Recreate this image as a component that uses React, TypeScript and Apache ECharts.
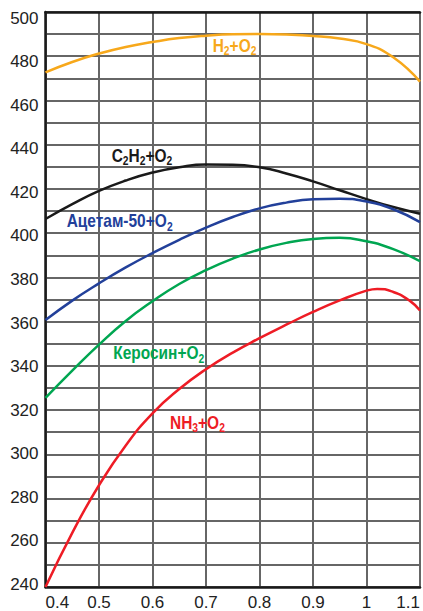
import React, { useEffect, useRef } from "react";
import * as echarts from "echarts";

// Values
const xH2 = [0.4, 0.45, 0.5, 0.55, 0.6, 0.65, 0.7, 0.75, 0.8, 0.85, 0.9, 0.95, 1.0, 1.05, 1.1];
const yH2 = [472.7, 477.4, 481.2, 484.2, 486.4, 488.2, 489.3, 489.9, 490.0, 489.8, 489.2, 488.0, 485.5, 479.5, 468.5];

const xC2H2 = [0.4, 0.45, 0.5, 0.55, 0.6, 0.65, 0.7, 0.75, 0.8, 0.85, 0.9, 0.95, 1.0, 1.05, 1.1];
const yC2H2 = [406.4, 413.1, 419.1, 423.8, 427.4, 429.8, 431.0, 430.9, 429.8, 427.0, 423.4, 419.4, 415.4, 411.8, 408.8];

const xAcetam = [0.4, 0.45, 0.5, 0.55, 0.6, 0.65, 0.7, 0.75, 0.8, 0.85, 0.9, 0.95, 1.0, 1.05, 1.1];
const yAcetam = [360.7, 369.5, 377.3, 384.5, 391.0, 397.0, 402.5, 407.3, 411.2, 413.8, 415.3, 415.6, 414.3, 410.8, 405.0];

const xKerosin = [0.4, 0.45, 0.5, 0.55, 0.6, 0.65, 0.7, 0.75, 0.8, 0.85, 0.9, 0.95, 1.0, 1.05, 1.1];
const yKerosin = [325.5, 337.8, 349.6, 360.3, 369.2, 377.0, 383.3, 388.5, 392.6, 395.6, 397.4, 397.9, 396.3, 392.8, 387.3];

const xNH3 = [0.4, 0.45, 0.5, 0.55, 0.6, 0.65, 0.7, 0.75, 0.8, 0.85, 0.9, 0.95, 1.0, 1.02, 1.05, 1.08, 1.1];
const yNH3 = [240.0, 264.5, 286.0, 304.0, 318.5, 329.5, 338.5, 346.0, 352.5, 358.6, 364.4, 369.6, 374.0, 374.8, 373.4, 369.6, 365.0];

const seriesNames = ["H2+O2", "C2H2+O2", "Ацетам-50+O2", "Керосин+O2", "NH3+O2"];
const seriesColors = ["#F7A81B", "#1a1a1a", "#22409A", "#00A651", "#EE1C25"];

const xTicks = { min: 0.4, max: 1.1, step: 0.1 };
const yTicks = { min: 240, max: 500, step: 10 };
const yLabelValues = [240, 260, 280, 300, 320, 340, 360, 380, 400, 420, 440, 460, 480, 500];
// the printed tick labels sit on a slightly compressed scale
const yLabelRange = { min: 238.72, max: 502.88 };

const zip = (xs: number[], ys: number[]) => xs.map((x, i) => [x, ys[i]]);

const labelFont = "'Liberation Sans', Arial, sans-serif";

function richLabel(parts: [string, boolean][]) {
  return parts.map(([t, sub]) => (sub ? `{s|${t}}` : `{n|${t}}`)).join("");
}

function makeLabel(x: number, y: number, color: string, parts: [string, boolean][]) {
  return {
    type: "text",
    x,
    y,
    scaleX: 0.86,
    z: 10,
    style: {
      text: richLabel(parts),
      fill: color,
      verticalAlign: "middle",
      align: "left",
      rich: {
        n: { fontSize: 18, fontWeight: "bold", fontFamily: labelFont, fill: color, lineHeight: 22, verticalAlign: "middle" },
        s: { fontSize: 12, fontWeight: "bold", fontFamily: labelFont, fill: color, lineHeight: 22, verticalAlign: "bottom" },
      },
    },
  };
}

export default function App() {
  const ref = useRef<HTMLDivElement>(null);
  useEffect(() => {
    if (!ref.current) return;
    const chart = echarts.init(ref.current, null, { renderer: "svg" });
    const dataSets = [zip(xH2, yH2), zip(xC2H2, yC2H2), zip(xAcetam, yAcetam), zip(xKerosin, yKerosin), zip(xNH3, yNH3)];
    const axisLabelStyle = { fontSize: 17, color: "#222", fontFamily: "'Liberation Sans', Arial, sans-serif" };
    const blackLine = { show: true, onZero: false, lineStyle: { color: "#1a1a1a", width: 2.5 } };
    chart.setOption({
      animation: false,
      backgroundColor: "#fff",
      grid: { left: 45.5, top: 12, width: 378, height: 577.5, containLabel: false },
      xAxis: [
        {
          type: "value",
          min: xTicks.min,
          max: xTicks.max,
          interval: xTicks.step,
          position: "bottom",
          axisLine: blackLine,
          axisTick: { show: false },
          splitLine: { show: true, lineStyle: { color: "#666", width: 2 } },
          axisLabel: {
            ...axisLabelStyle,
            margin: 7,
            alignMinLabel: "left",
            alignMaxLabel: "right",
            formatter: (v: number) => String(Math.round(v * 10) / 10),
          },
        },
        {
          type: "value",
          min: xTicks.min,
          max: xTicks.max,
          interval: xTicks.step,
          position: "top",
          axisLine: blackLine,
          axisTick: { show: false },
          splitLine: { show: false },
          axisLabel: { show: false },
        },
      ],
      yAxis: [
        {
          type: "value",
          min: yTicks.min,
          max: yTicks.max,
          interval: yTicks.step,
          position: "left",
          axisLine: blackLine,
          axisTick: { show: false },
          splitLine: { show: true, lineStyle: { color: "#666", width: 2 } },
          axisLabel: { show: false },
        },
        {
          type: "value",
          min: yLabelRange.min,
          max: yLabelRange.max,
          position: "left",
          axisLine: { show: false },
          axisTick: { show: false },
          splitLine: { show: false },
          axisLabel: {
            ...axisLabelStyle,
            margin: 7,
            customValues: yLabelValues,
            formatter: (v: number) => String(Math.round(v)),
          },
        },
      ],
      series: dataSets.map((d, i) => ({
        name: seriesNames[i],
        type: "line",
        xAxisIndex: 0,
        yAxisIndex: 0,
        data: d,
        smooth: 0.5,
        symbol: "none",
        showSymbol: false,
        lineStyle: { color: seriesColors[i], width: 2.5 },
        itemStyle: { color: seriesColors[i] },
        z: 3,
      })),
      graphic: [
        makeLabel(212.7, 46, seriesColors[0], [["H", false], ["2", true], ["+O", false], ["2", true]]),
        makeLabel(111.7, 156, seriesColors[1], [["C", false], ["2", true], ["H", false], ["2", true], ["+O", false], ["2", true]]),
        makeLabel(66.7, 221.5, seriesColors[2], [["Ацетам-50+O", false], ["2", true]]),
        makeLabel(113.3, 353.5, seriesColors[3], [["Керосин+O", false], ["2", true]]),
        makeLabel(170, 422.8, seriesColors[4], [["NH", false], ["3", true], ["+O", false], ["2", true]]),
      ],
    });
    return () => chart.dispose();
  }, []);
  return <div ref={ref} style={{ position: "fixed", left: 0, top: 0, width: 423, height: 611 }} />;
}
